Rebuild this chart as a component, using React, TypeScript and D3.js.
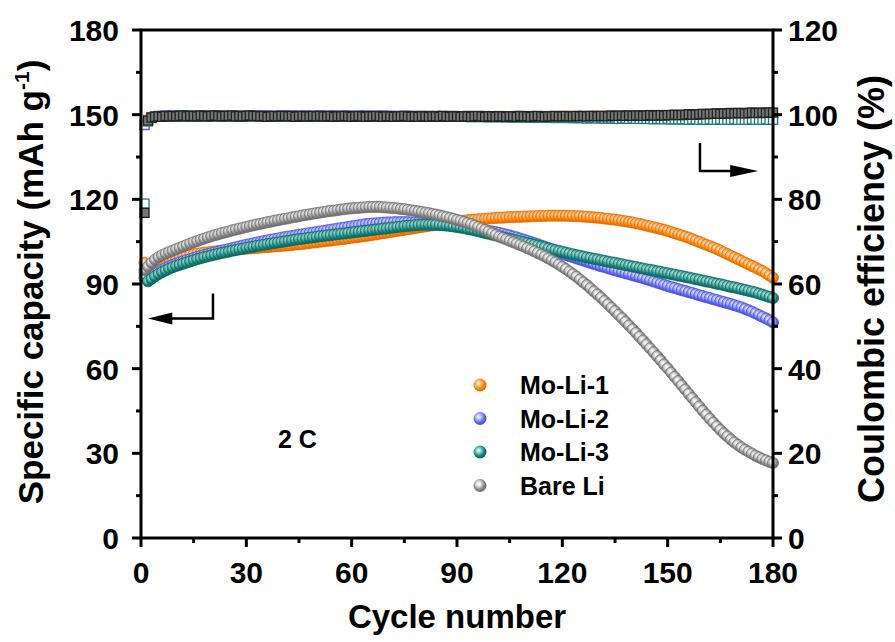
import React from "react";
import * as d3 from "d3";

const W = 895;
const H = 642;
const MARGIN = { top: 30, right: 122, bottom: 104, left: 141 };

// specific capacity, mAh/g, cycles 1..180
const moLi1Cap = [
  97.5, 95.5, 96.0, 96.8, 97.4, 97.9, 98.3, 98.7, 99.0, 99.3,
  99.6, 99.8, 100.1, 100.3, 100.5, 100.7, 100.9, 101.1, 101.2, 101.4,
  101.5, 101.7, 101.8, 101.9, 102.0, 102.1, 102.2, 102.3, 102.4, 102.5,
  102.6, 102.7, 102.8, 102.9, 103.0, 103.1, 103.2, 103.3, 103.4, 103.5,
  103.6, 103.7, 103.8, 104.0, 104.1, 104.2, 104.4, 104.5, 104.7, 104.8,
  105.0, 105.1, 105.3, 105.4, 105.6, 105.7, 105.9, 106.0, 106.2, 106.4,
  106.5, 106.7, 106.9, 107.0, 107.2, 107.4, 107.6, 107.8, 108.0, 108.2,
  108.4, 108.6, 108.8, 109.0, 109.2, 109.4, 109.6, 109.8, 110.0, 110.2,
  110.4, 110.6, 110.8, 111.0, 111.2, 111.4, 111.6, 111.8, 112.0, 112.1,
  112.3, 112.4, 112.6, 112.7, 112.8, 112.9, 113.0, 113.1, 113.2, 113.3,
  113.4, 113.5, 113.5, 113.6, 113.7, 113.7, 113.8, 113.8, 113.9, 113.9,
  114.0, 114.0, 114.1, 114.1, 114.1, 114.2, 114.2, 114.2, 114.2, 114.2,
  114.2, 114.1, 114.1, 114.0, 114.0, 113.9, 113.8, 113.7, 113.6, 113.5,
  113.4, 113.2, 113.1, 112.9, 112.8, 112.6, 112.4, 112.2, 112.0, 111.8,
  111.5, 111.3, 111.0, 110.7, 110.4, 110.1, 109.8, 109.5, 109.2, 108.8,
  108.4, 108.0, 107.6, 107.2, 106.8, 106.4, 105.9, 105.4, 104.9, 104.4,
  103.9, 103.4, 102.9, 102.4, 101.8, 101.2, 100.6, 100.0, 99.4, 98.8,
  98.2, 97.6, 97.0, 96.4, 95.8, 95.2, 94.6, 93.8, 93.0, 92.2,
];

const moLi2Cap = [
  94.0, 92.0, 92.8, 93.6, 94.3, 95.0, 95.6, 96.2, 96.7, 97.2,
  97.6, 98.0, 98.4, 98.8, 99.2, 99.6, 99.9, 100.3, 100.6, 100.9,
  101.2, 101.5, 101.8, 102.1, 102.4, 102.7, 103.0, 103.3, 103.6, 103.9,
  104.1, 104.4, 104.7, 104.9, 105.2, 105.4, 105.7, 105.9, 106.1, 106.4,
  106.6, 106.8, 107.0, 107.2, 107.4, 107.6, 107.8, 108.0, 108.2, 108.4,
  108.6, 108.8, 109.0, 109.2, 109.4, 109.6, 109.8, 110.0, 110.2, 110.4,
  110.6, 110.8, 111.0, 111.2, 111.3, 111.4, 111.5, 111.6, 111.7, 111.8,
  111.8, 111.9, 111.9, 111.9, 111.9, 111.9, 111.8, 111.8, 111.7, 111.6,
  111.5, 111.4, 111.3, 111.2, 111.1, 111.0, 110.9, 110.7, 110.6, 110.4,
  110.3, 110.1, 110.0, 109.8, 109.6, 109.4, 109.2, 109.0, 108.8, 108.6,
  108.4, 108.1, 107.8, 107.5, 107.2, 106.8, 106.5, 106.1, 105.7, 105.3,
  104.9, 104.5, 104.1, 103.6, 103.2, 102.7, 102.2, 101.7, 101.2, 100.7,
  100.3, 99.9, 99.5, 99.1, 98.7, 98.3, 97.9, 97.5, 97.1, 96.7,
  96.3, 96.0, 95.6, 95.2, 94.9, 94.5, 94.2, 93.8, 93.5, 93.1,
  92.8, 92.4, 92.1, 91.7, 91.3, 90.9, 90.5, 90.1, 89.7, 89.3,
  88.9, 88.6, 88.2, 87.8, 87.5, 87.1, 86.8, 86.4, 86.0, 85.7,
  85.3, 85.0, 84.6, 84.3, 83.9, 83.6, 83.2, 82.9, 82.5, 82.1,
  81.7, 81.2, 80.7, 80.2, 79.6, 79.0, 78.4, 77.8, 77.1, 76.4,
];

const moLi3Cap = [
  92.2, 91.0, 91.8, 92.7, 93.5, 94.2, 94.8, 95.4, 95.9, 96.4,
  96.8, 97.2, 97.6, 98.0, 98.4, 98.8, 99.1, 99.5, 99.8, 100.1,
  100.4, 100.7, 101.0, 101.2, 101.5, 101.8, 102.0, 102.3, 102.5, 102.8,
  103.0, 103.2, 103.5, 103.7, 103.9, 104.1, 104.3, 104.5, 104.7, 104.9,
  105.1, 105.3, 105.5, 105.7, 105.9, 106.0, 106.2, 106.4, 106.5, 106.7,
  106.9, 107.0, 107.2, 107.3, 107.5, 107.6, 107.8, 107.9, 108.1, 108.2,
  108.4, 108.5, 108.7, 108.8, 109.0, 109.1, 109.3, 109.4, 109.6, 109.7,
  109.9, 110.0, 110.2, 110.3, 110.5, 110.6, 110.7, 110.8, 110.9, 111.0,
  111.0, 111.0, 111.0, 111.0, 110.9, 110.8, 110.7, 110.6, 110.4, 110.2,
  110.0, 109.8, 109.5, 109.3, 109.0, 108.7, 108.4, 108.1, 107.8, 107.5,
  107.2, 106.9, 106.6, 106.3, 106.0, 105.7, 105.4, 105.1, 104.8, 104.5,
  104.2, 103.9, 103.6, 103.3, 103.0, 102.6, 102.3, 102.0, 101.7, 101.4,
  101.1, 100.8, 100.5, 100.2, 100.0, 99.7, 99.4, 99.2, 98.9, 98.7,
  98.4, 98.2, 97.9, 97.7, 97.5, 97.2, 97.0, 96.7, 96.5, 96.2,
  96.0, 95.7, 95.5, 95.2, 95.0, 94.8, 94.5, 94.3, 94.0, 93.8,
  93.5, 93.3, 93.0, 92.8, 92.5, 92.3, 92.0, 91.7, 91.5, 91.2,
  90.9, 90.7, 90.4, 90.1, 89.9, 89.6, 89.3, 89.0, 88.8, 88.5,
  88.2, 87.9, 87.6, 87.3, 87.0, 86.6, 86.2, 85.8, 85.4, 85.0,
];

const bareLiCap = [
  95.0, 96.2, 97.5, 98.6, 99.5, 100.2, 100.8, 101.3, 101.8, 102.3,
  102.8, 103.3, 103.8, 104.3, 104.8, 105.2, 105.7, 106.1, 106.5, 106.9,
  107.3, 107.6, 108.0, 108.3, 108.6, 109.0, 109.3, 109.6, 109.9, 110.2,
  110.5, 110.8, 111.1, 111.3, 111.6, 111.9, 112.1, 112.4, 112.6, 112.9,
  113.1, 113.3, 113.6, 113.8, 114.0, 114.3, 114.5, 114.7, 114.9, 115.1,
  115.3, 115.5, 115.7, 115.9, 116.0, 116.2, 116.4, 116.5, 116.7, 116.8,
  116.9, 117.0, 117.1, 117.2, 117.3, 117.3, 117.3, 117.3, 117.2, 117.1,
  117.0, 116.9, 116.8, 116.6, 116.5, 116.3, 116.1, 115.9, 115.7, 115.5,
  115.3, 115.1, 114.8, 114.6, 114.3, 114.0, 113.7, 113.4, 113.1, 112.7,
  112.4, 112.0, 111.6, 111.2, 110.7, 110.2, 109.7, 109.2, 108.6, 108.0,
  107.4, 106.8, 106.3, 105.8, 105.3, 104.8, 104.3, 103.8, 103.3, 102.7,
  102.2, 101.6, 101.0, 100.4, 99.8, 99.1, 98.4, 97.7, 96.9, 96.1,
  95.3, 94.4, 93.5, 92.6, 91.6, 90.6, 89.6, 88.5, 87.4, 86.3,
  85.2, 84.0, 82.8, 81.6, 80.4, 79.1, 77.9, 76.6, 75.3, 74.0,
  72.7, 71.3, 70.0, 68.6, 67.2, 65.8, 64.4, 63.0, 61.5, 60.1,
  58.6, 57.1, 55.6, 54.1, 52.6, 51.1, 49.6, 48.1, 46.6, 45.1,
  43.7, 42.3, 40.9, 39.6, 38.3, 37.1, 36.0, 34.9, 33.9, 33.0,
  32.1, 31.3, 30.6, 29.9, 29.2, 28.6, 28.0, 27.5, 27.0, 26.6,
];

// coulombic efficiency, %, cycles 1..180
const moLi1CE = [
  97.5, 98.8, 99.4, 99.6, 99.6, 99.7, 99.6, 99.7, 99.6, 99.7,
  99.7, 99.6, 99.7, 99.6, 99.7, 99.7, 99.6, 99.7, 99.6, 99.7,
  99.6, 99.7, 99.6, 99.6, 99.7, 99.6, 99.7, 99.6, 99.6, 99.7,
  99.6, 99.6, 99.7, 99.6, 99.6, 99.7, 99.6, 99.6, 99.7, 99.6,
  99.6, 99.7, 99.6, 99.6, 99.7, 99.6, 99.6, 99.6, 99.7, 99.6,
  99.6, 99.6, 99.7, 99.6, 99.6, 99.6, 99.7, 99.6, 99.6, 99.6,
  99.6, 99.7, 99.6, 99.6, 99.6, 99.7, 99.6, 99.6, 99.6, 99.6,
  99.7, 99.6, 99.6, 99.6, 99.6, 99.7, 99.6, 99.6, 99.6, 99.7,
  99.6, 99.6, 99.6, 99.7, 99.6, 99.6, 99.6, 99.6, 99.7, 99.6,
  99.6, 99.6, 99.7, 99.6, 99.6, 99.6, 99.6, 99.7, 99.6, 99.6,
  99.6, 99.7, 99.6, 99.6, 99.6, 99.6, 99.7, 99.6, 99.6, 99.6,
  99.7, 99.6, 99.6, 99.6, 99.6, 99.7, 99.6, 99.6, 99.6, 99.7,
  99.6, 99.6, 99.6, 99.6, 99.7, 99.6, 99.6, 99.6, 99.7, 99.6,
  99.6, 99.6, 99.7, 99.6, 99.6, 99.6, 99.6, 99.7, 99.6, 99.6,
  99.6, 99.7, 99.6, 99.6, 99.6, 99.7, 99.6, 99.6, 99.6, 99.6,
  99.7, 99.6, 99.6, 99.6, 99.7, 99.6, 99.6, 99.6, 99.6, 99.7,
  99.6, 99.6, 99.6, 99.7, 99.6, 99.6, 99.6, 99.6, 99.7, 99.6,
  99.6, 99.6, 99.7, 99.6, 99.6, 99.6, 99.6, 99.7, 99.6, 99.6,
];

const moLi2CE = [
  97.6, 98.6, 99.3, 99.6, 99.7, 99.7, 99.8, 99.7, 99.8, 99.7,
  99.8, 99.7, 99.8, 99.7, 99.7, 99.8, 99.7, 99.8, 99.7, 99.7,
  99.8, 99.7, 99.7, 99.8, 99.7, 99.7, 99.8, 99.7, 99.7, 99.8,
  99.7, 99.7, 99.8, 99.7, 99.7, 99.8, 99.7, 99.7, 99.7, 99.8,
  99.7, 99.7, 99.8, 99.7, 99.7, 99.7, 99.8, 99.7, 99.7, 99.7,
  99.8, 99.7, 99.7, 99.7, 99.8, 99.7, 99.7, 99.7, 99.8, 99.7,
  99.7, 99.7, 99.7, 99.8, 99.7, 99.7, 99.7, 99.7, 99.8, 99.7,
  99.7, 99.7, 99.6, 99.7, 99.7, 99.7, 99.6, 99.7, 99.7, 99.6,
  99.7, 99.7, 99.6, 99.7, 99.6, 99.7, 99.6, 99.6, 99.7, 99.6,
  99.6, 99.6, 99.7, 99.6, 99.6, 99.5, 99.6, 99.6, 99.5, 99.6,
  99.5, 99.6, 99.5, 99.5, 99.6, 99.5, 99.5, 99.5, 99.6, 99.5,
  99.5, 99.4, 99.5, 99.5, 99.4, 99.5, 99.4, 99.4, 99.5, 99.4,
  99.4, 99.4, 99.3, 99.4, 99.4, 99.3, 99.4, 99.3, 99.3, 99.4,
  99.3, 99.3, 99.2, 99.3, 99.3, 99.2, 99.3, 99.2, 99.2, 99.3,
  99.2, 99.2, 99.1, 99.2, 99.2, 99.1, 99.2, 99.1, 99.1, 99.2,
  99.1, 99.1, 99.0, 99.1, 99.1, 99.0, 99.1, 99.0, 99.0, 99.1,
  99.0, 99.0, 99.0, 99.1, 99.0, 99.0, 98.9, 99.0, 99.0, 98.9,
  99.0, 99.0, 98.9, 99.0, 98.9, 99.0, 98.9, 98.9, 99.0, 98.9,
];

const moLi3CE = [
  79.0, 98.4, 99.2, 99.5, 99.6, 99.6, 99.7, 99.6, 99.7, 99.6,
  99.7, 99.6, 99.6, 99.7, 99.6, 99.6, 99.7, 99.6, 99.6, 99.7,
  99.6, 99.6, 99.7, 99.6, 99.6, 99.6, 99.7, 99.6, 99.6, 99.6,
  99.7, 99.6, 99.6, 99.6, 99.7, 99.6, 99.6, 99.6, 99.6, 99.7,
  99.6, 99.6, 99.6, 99.6, 99.7, 99.6, 99.6, 99.6, 99.6, 99.6,
  99.7, 99.6, 99.6, 99.6, 99.6, 99.6, 99.7, 99.6, 99.6, 99.6,
  99.6, 99.6, 99.6, 99.7, 99.6, 99.6, 99.6, 99.6, 99.6, 99.6,
  99.6, 99.5, 99.6, 99.6, 99.6, 99.5, 99.6, 99.6, 99.5, 99.6,
  99.5, 99.6, 99.5, 99.5, 99.6, 99.5, 99.5, 99.5, 99.6, 99.5,
  99.5, 99.5, 99.5, 99.4, 99.5, 99.5, 99.4, 99.5, 99.4, 99.4,
  99.5, 99.4, 99.4, 99.4, 99.4, 99.3, 99.4, 99.4, 99.3, 99.4,
  99.3, 99.3, 99.4, 99.3, 99.3, 99.3, 99.3, 99.2, 99.3, 99.3,
  99.2, 99.3, 99.2, 99.2, 99.2, 99.2, 99.1, 99.2, 99.2, 99.1,
  99.2, 99.1, 99.1, 99.1, 99.1, 99.0, 99.1, 99.1, 99.0, 99.1,
  99.0, 99.0, 99.0, 99.0, 99.0, 98.9, 99.0, 99.0, 98.9, 99.0,
  98.9, 98.9, 98.9, 98.9, 98.9, 98.8, 98.9, 98.9, 98.8, 98.9,
  98.8, 98.9, 98.8, 98.8, 98.9, 98.8, 98.8, 98.8, 98.9, 98.8,
  98.8, 98.8, 98.8, 98.9, 98.8, 98.8, 98.8, 98.9, 98.8, 98.8,
];

const bareLiCE = [
  76.8, 98.6, 99.3, 99.5, 99.6, 99.5, 99.7, 99.6, 99.7, 99.6,
  99.7, 99.8, 99.6, 99.7, 99.7, 99.6, 99.8, 99.7, 99.6, 99.7,
  99.8, 99.7, 99.6, 99.7, 99.7, 99.8, 99.6, 99.7, 99.6, 99.7,
  99.8, 99.7, 99.7, 99.6, 99.7, 99.5, 99.6, 99.7, 99.6, 99.7,
  99.7, 99.6, 99.7, 99.5, 99.6, 99.7, 99.6, 99.6, 99.7, 99.6,
  99.7, 99.6, 99.6, 99.7, 99.5, 99.6, 99.6, 99.7, 99.6, 99.5,
  99.6, 99.7, 99.6, 99.5, 99.6, 99.6, 99.7, 99.6, 99.5, 99.6,
  99.6, 99.5, 99.6, 99.6, 99.7, 99.6, 99.5, 99.6, 99.5, 99.6,
  99.6, 99.5, 99.6, 99.6, 99.5, 99.7, 99.6, 99.5, 99.6, 99.6,
  99.5, 99.6, 99.6, 99.5, 99.6, 99.7, 99.6, 99.5, 99.6, 99.6,
  99.5, 99.6, 99.6, 99.5, 99.6, 99.6, 99.5, 99.7, 99.6, 99.6,
  99.5, 99.6, 99.7, 99.6, 99.5, 99.6, 99.6, 99.7, 99.6, 99.6,
  99.7, 99.6, 99.6, 99.7, 99.6, 99.7, 99.6, 99.7, 99.7, 99.6,
  99.7, 99.7, 99.6, 99.8, 99.7, 99.7, 99.8, 99.7, 99.8, 99.7,
  99.8, 99.8, 99.7, 99.8, 99.9, 99.8, 99.8, 99.9, 99.8, 99.9,
  99.9, 100.0, 99.9, 99.9, 100.0, 100.1, 100.0, 100.0, 100.1, 100.2,
  100.1, 100.2, 100.2, 100.3, 100.2, 100.3, 100.3, 100.4, 100.3, 100.4,
  100.4, 100.3, 100.4, 100.5, 100.4, 100.4, 100.5, 100.4, 100.5, 100.5,
];

const seriesNames = ["Mo-Li-1", "Mo-Li-2", "Mo-Li-3", "Bare Li"];
const seriesColors = ["#ff8000", "#5d66f0", "#138078", "#858585"];
const seriesDark = ["#e06a00", "#4650d8", "#0c665f", "#6e6e6e"];
const seriesLight = ["#ffc98f", "#c4c8ff", "#8fd3c9", "#e2e2e2"];
const capacityData = [moLi1Cap, moLi2Cap, moLi3Cap, bareLiCap];
const ceData = [moLi1CE, moLi2CE, moLi3CE, bareLiCE];

const xTicks = [0, 30, 60, 90, 120, 150, 180];
const leftTicks = [0, 30, 60, 90, 120, 150, 180];
const rightTicks = [0, 20, 40, 60, 80, 100, 120];

const FONT = "'Liberation Sans', Arial, Helvetica, sans-serif";

export default function App() {
  const x0 = MARGIN.left;
  const x1 = W - MARGIN.right;
  const y0 = H - MARGIN.bottom;
  const y1 = MARGIN.top;

  const x = d3.scaleLinear().domain([0, 180]).range([x0, x1]);
  const yCap = d3.scaleLinear().domain([0, 180]).range([y0, y1]);
  const yCE = d3.scaleLinear().domain([0, 120]).range([y0, y1]);

  const xMinor = d3.range(15, 180, 30);
  const leftMinor = d3.range(15, 180, 30);
  const rightMinor = d3.range(10, 120, 20);

  const sq = 9;
  const r = 5.6;

  return (
    <svg
      width={W}
      height={H}
      style={{ position: "absolute", left: 0, top: 0, background: "#fff" }}
      fontFamily={FONT}
      fontWeight="bold"
    >
      <defs>
        {seriesColors.map((c, i) => (
          <radialGradient key={i} id={`ball${i}`} cx="40%" cy="38%" r="62%">
            <stop offset="0%" stopColor="#ffffff" />
            <stop offset="28%" stopColor={seriesLight[i]} />
            <stop offset="70%" stopColor={c} />
            <stop offset="100%" stopColor={seriesDark[i]} />
          </radialGradient>
        ))}
      </defs>

      {/* coulombic efficiency squares */}
      {ceData.map((vals, si) => (
        <g key={`ce${si}`}>
          {vals.map((v, i) => (
            <rect
              key={i}
              x={x(i + 1) - sq / 2}
              y={yCE(v) - sq / 2}
              width={sq}
              height={sq}
              fill={si === 3 ? "#777" : "#fff"}
              stroke={si === 3 ? "#222" : seriesColors[si]}
              strokeWidth={1.3}
            />
          ))}
        </g>
      ))}

      {/* capacity balls */}
      {capacityData.map((vals, si) => (
        <g key={`cap${si}`}>
          {vals.map((v, i) => (
            <circle
              key={i}
              cx={x(i + 1)}
              cy={yCap(v)}
              r={r}
              fill={`url(#ball${si})`}
              stroke={seriesDark[si]}
              strokeWidth={0.7}
            />
          ))}
        </g>
      ))}

      {/* frame */}
      <rect x={x0} y={y1} width={x1 - x0} height={y0 - y1} fill="none" stroke="#000" strokeWidth={3} />

      {/* bottom axis */}
      {xTicks.map((t) => (
        <g key={`xt${t}`}>
          <line x1={x(t)} x2={x(t)} y1={y0} y2={y0 + 9} stroke="#000" strokeWidth={3} />
          <text x={x(t)} y={y0 + 45} textAnchor="middle" fontSize={30}>
            {t}
          </text>
        </g>
      ))}
      {xMinor.map((t) => (
        <line key={`xm${t}`} x1={x(t)} x2={x(t)} y1={y0} y2={y0 + 5} stroke="#000" strokeWidth={3} />
      ))}

      {/* left axis */}
      {leftTicks.map((t) => (
        <g key={`lt${t}`}>
          <line x1={x0 - 9} x2={x0} y1={yCap(t)} y2={yCap(t)} stroke="#000" strokeWidth={3} />
          <text x={x0 - 22} y={yCap(t) + 11} textAnchor="end" fontSize={30}>
            {t}
          </text>
        </g>
      ))}
      {leftMinor.map((t) => (
        <line key={`lm${t}`} x1={x0 - 5} x2={x0} y1={yCap(t)} y2={yCap(t)} stroke="#000" strokeWidth={3} />
      ))}

      {/* right axis */}
      {rightTicks.map((t) => (
        <g key={`rt${t}`}>
          <line x1={x1} x2={x1 + 9} y1={yCE(t)} y2={yCE(t)} stroke="#000" strokeWidth={3} />
          <text x={x1 + 15} y={yCE(t) + 11} textAnchor="start" fontSize={30}>
            {t}
          </text>
        </g>
      ))}
      {rightMinor.map((t) => (
        <line key={`rm${t}`} x1={x1} x2={x1 + 5} y1={yCE(t)} y2={yCE(t)} stroke="#000" strokeWidth={3} />
      ))}

      {/* axis titles */}
      <text x={(x0 + x1) / 2} y={H - 14} textAnchor="middle" fontSize={33}>
        Cycle number
      </text>
      <text
        transform={`translate(43, ${(y0 + y1) / 2 - 2}) rotate(-90)`}
        textAnchor="middle"
        fontSize={35}
      >
        Specific capacity (mAh g
        <tspan fontSize={21} dy={-14}>-1</tspan>
        <tspan dy={14}>)</tspan>
      </text>
      <text
        transform={`translate(884, ${(y0 + y1) / 2 + 5}) rotate(-90)`}
        textAnchor="middle"
        fontSize={36}
      >
        Coulombic efficiency (%)
      </text>

      {/* arrows */}
      <path
        d={`M${x(20.5)},${yCap(86.6)} V${yCap(77.8)} H${x(6.5)}`}
        fill="none"
        stroke="#000"
        strokeWidth={2.5}
      />
      <path
        d={`M${x(2)},${yCap(77.8)} L${x(8.9)},${yCap(77.8) - 6} L${x(8.9)},${yCap(77.8) + 6} Z`}
        fill="#000"
      />
      <path
        d={`M${x(159.2)},${yCE(93.3)} V${yCE(86.7)} H${x(170)}`}
        fill="none"
        stroke="#000"
        strokeWidth={2.5}
      />
      <path
        d={`M${x(175.8)},${yCE(86.7)} L${x(167.8)},${yCE(86.7) - 6} L${x(167.8)},${yCE(86.7) + 6} Z`}
        fill="#000"
      />

      {/* rate label */}
      <text x={x(39)} y={yCap(31.9)} fontSize={25}>
        2 C
      </text>

      {/* legend */}
      {seriesNames.map((name, i) => (
        <g key={name} transform={`translate(480, ${385 + i * 33.5})`}>
          <circle r={6.5} fill={`url(#ball${i})`} />
          <text x={40} y={9} fontSize={25}>
            {name}
          </text>
        </g>
      ))}
    </svg>
  );
}
